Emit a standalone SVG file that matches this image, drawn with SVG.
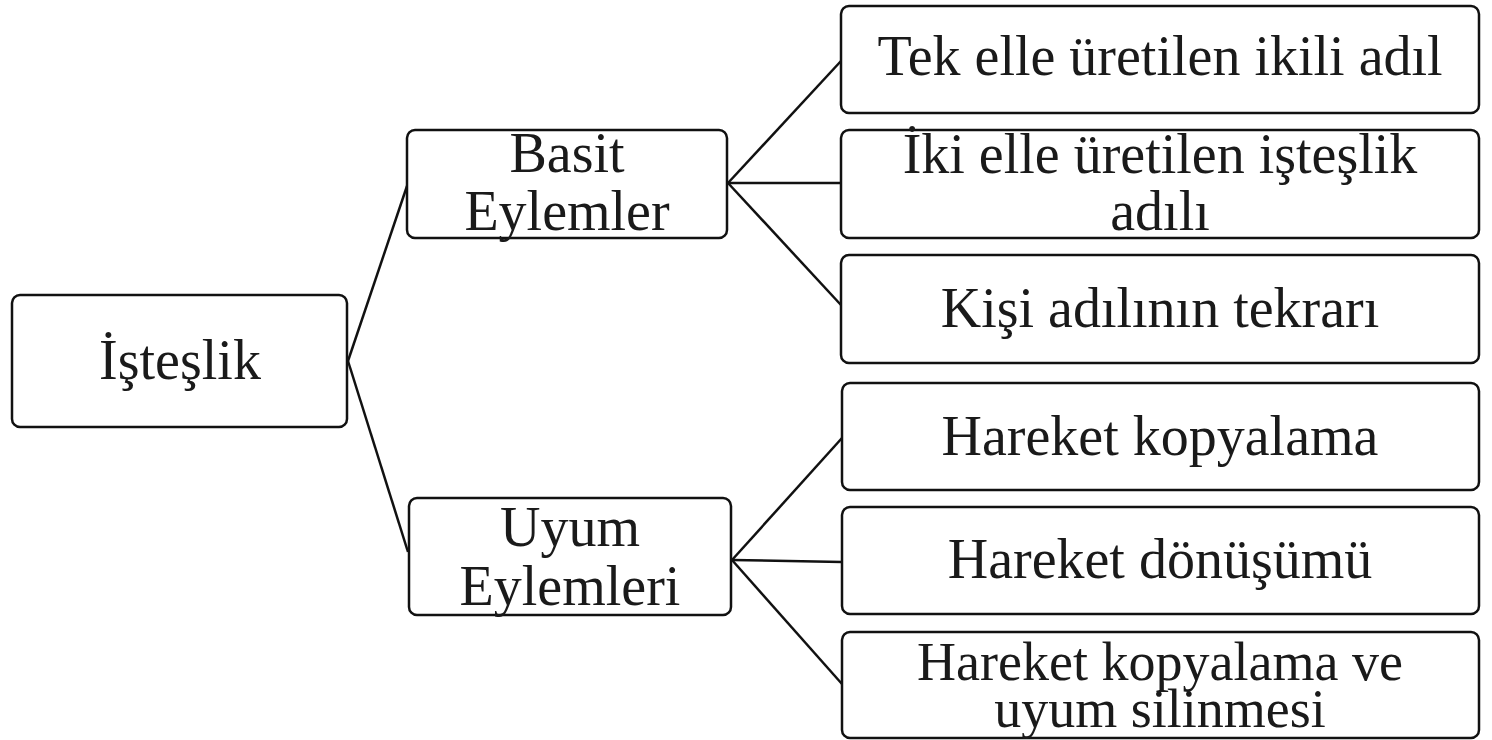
<svg xmlns="http://www.w3.org/2000/svg" width="1492" height="740" viewBox="0 0 1492 740">
<style>
.box{fill:#fff;stroke:#111;stroke-width:2.5}
.t{font-family:"Liberation Serif","Times New Roman",serif;font-size:56px;fill:#1a1a1a;text-anchor:middle}
.s{font-size:54px}
.c{stroke:#111;stroke-width:2.5;fill:none}
</style>
<rect width="1492" height="740" fill="#fff"/>
<g id="connectors">
<line class="c" x1="348" y1="361" x2="407" y2="186"/>
<line class="c" x1="348" y1="361" x2="408" y2="552"/>
<line class="c" x1="728" y1="183" x2="841" y2="61"/>
<line class="c" x1="728" y1="183" x2="841" y2="183"/>
<line class="c" x1="728" y1="183" x2="841" y2="305"/>
<line class="c" x1="732" y1="560" x2="842" y2="438"/>
<line class="c" x1="732" y1="560" x2="842" y2="562"/>
<line class="c" x1="732" y1="560" x2="842" y2="684"/>
</g>
<g id="n-isteslik">
<rect class="box" x="12" y="295" width="335" height="132" rx="8"/>
<text class="t" x="180" y="379">İşteşlik</text>
</g>
<g id="n-basit">
<rect class="box" x="407" y="130" width="320" height="108" rx="8"/>
<text class="t" x="567" y="172">Basit</text>
<text class="t" x="567" y="230">Eylemler</text>
</g>
<g id="n-uyum">
<rect class="box" x="409" y="498" width="322" height="117" rx="8"/>
<text class="t" x="570" y="546">Uyum</text>
<text class="t" x="570" y="605">Eylemleri</text>
</g>
<g id="n-tek">
<rect class="box" x="841" y="6" width="638" height="107" rx="8"/>
<text class="t" x="1160" y="75">Tek elle üretilen ikili adıl</text>
</g>
<g id="n-iki">
<rect class="box" x="841" y="130" width="638" height="108" rx="8"/>
<text class="t" x="1160" y="173">İki elle üretilen işteşlik</text>
<text class="t" x="1160" y="230">adılı</text>
</g>
<g id="n-kisi">
<rect class="box" x="841" y="255" width="638" height="108" rx="8"/>
<text class="t" x="1160" y="327">Kişi adılının tekrarı</text>
</g>
<g id="n-hk">
<rect class="box" x="842" y="383" width="637" height="107" rx="8"/>
<text class="t" x="1160" y="455">Hareket kopyalama</text>
</g>
<g id="n-hd">
<rect class="box" x="842" y="507" width="637" height="107" rx="8"/>
<text class="t" x="1160" y="578">Hareket dönüşümü</text>
</g>
<g id="n-hkv">
<rect class="box" x="842" y="632" width="637" height="106" rx="8"/>
<text class="t s" x="1160" y="680">Hareket kopyalama ve</text>
<text class="t s" x="1160" y="727">uyum silinmesi</text>
</g>
</svg>
